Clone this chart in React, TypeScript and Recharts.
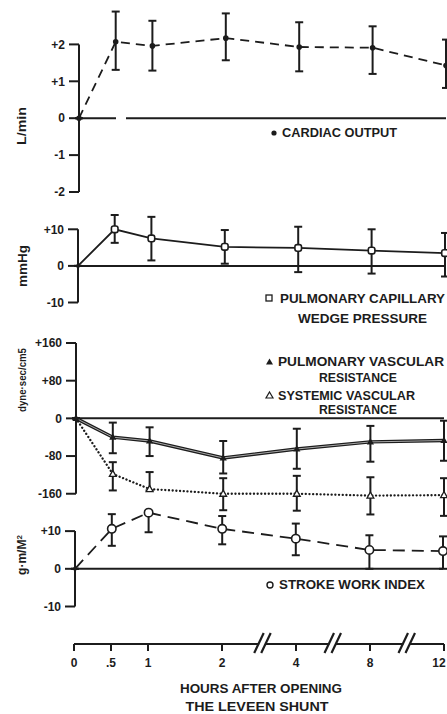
import React from 'react';
import { ComposedChart, Line, XAxis, YAxis, ErrorBar, ReferenceLine } from 'recharts';

const W = 447;
const H = 714;
const Y_W = 60;
const INK = '#1c1c1c';
const FONT = '"Liberation Sans", Arial, Helvetica, sans-serif';

// x categories (hours after opening the shunt), placed on a broken axis
const hourLabels = ['0', '.5', '1', '2', '4', '8', '12'];
const hourPositions = [0, 0.5, 1, 2, 3, 4, 5];
const axisBreaks = [2.55, 3.5, 4.5];

// Cardiac output (L/min)
const cardiacOutput = [0, 2.07, 1.96, 2.17, 1.93, 1.91, 1.43];
const cardiacHigh = [0, 2.89, 2.64, 2.84, 2.6, 2.49, 2.13];
const cardiacLow = [0, 1.31, 1.29, 1.57, 1.27, 1.2, 0.82];

// Pulmonary capillary wedge pressure (mmHg)
const wedgePressure = [0, 10.0, 7.5, 5.2, 4.9, 4.2, 3.5];
const wedgeHigh = [0, 13.9, 13.4, 9.8, 10.7, 10.0, 9.0];
const wedgeLow = [0, 6.3, 1.5, 0.6, -1.7, -2.1, -2.9];

// Pulmonary vascular resistance (dyne·sec/cm5)
const pulmVascRes = [0, -40, -48, -84, -65, -50, -47];
const pulmVascHigh = [0, -9, -19, -48, -22, -16, -5];
const pulmVascLow = [0, -74, -80, -117, -107, -92, -90];

// Systemic vascular resistance (dyne·sec/cm5)
const sysVascRes = [0, -118, -150, -160, -160, -164, -163];
const sysVascHigh = [0, -93, -114, -127, -122, -125, -127];
const sysVascLow = [0, -153, -153, -195, -196, -204, -207];

// Stroke work index (g·m/M2)
const strokeWork = [0, 10.6, 14.9, 10.6, 8.0, 5.0, 4.7];
const strokeHigh = [0, 14.5, 15.2, 14.0, 12.0, 8.9, 8.6];
const strokeLow = [0, 6.1, 9.7, 6.5, 3.6, 0, 0];

// y tick values and labels
const coTicks = [-2, -1, 0, 1, 2];
const coTickLabels = ['-2', '-1', '0', '+1', '+2'];
const wedgeTicks = [-10, 0, 10];
const wedgeTickLabels = ['-10', '0', '+10'];
const resTicks = [-160, -80, 0, 80, 160];
const resTickLabels = ['-160', '-80', '0', '+80', '+160'];
const swiTicks = [-10, 0, 10];
const swiTickLabels = ['-10', '0', '+10'];

function buildRows(values: number[], high: number[], low: number[]) {
  return hourPositions.map((x, i) => ({
    x,
    v: values[i],
    err: [values[i] - low[i], high[i] - values[i]],
  }));
}

const coRows = buildRows(cardiacOutput, cardiacHigh, cardiacLow);
const wedgeRows = buildRows(wedgePressure, wedgeHigh, wedgeLow);
const swiRows = buildRows(strokeWork, strokeHigh, strokeLow);
const resRows = hourPositions.map((x, i) => ({
  x,
  pvr: pulmVascRes[i],
  pvrErr: [pulmVascRes[i] - pulmVascLow[i], pulmVascHigh[i] - pulmVascRes[i]],
  svr: sysVascRes[i],
  svrErr: [sysVascRes[i] - sysVascLow[i], sysVascHigh[i] - sysVascRes[i]],
}));
const breakRows = axisBreaks.map((x) => ({ x, y: 0 }));

const txt = { fontFamily: FONT, fontWeight: 700, fill: INK } as const;

const OriginDot = (p: any, k: string) => <circle key={k} cx={p.cx} cy={p.cy} r={2} fill={INK} />;

const DotFilled = (p: any) => <circle key={`d${p.index}`} cx={p.cx} cy={p.cy} r={2.8} fill={INK} />;
const DotSquare = (p: any) =>
  p.index === 0 ? OriginDot(p, `s${p.index}`) : (
    <rect key={`s${p.index}`} x={p.cx - 3.3} y={p.cy - 3.3} width={6.6} height={6.6} rx={2.2}
      fill="#fff" stroke={INK} strokeWidth={1.6} />
  );
const DotCircle = (p: any) =>
  p.index === 0 ? OriginDot(p, `c${p.index}`) : (
    <circle key={`c${p.index}`} cx={p.cx} cy={p.cy} r={4.2} fill="#fff" stroke={INK} strokeWidth={1.6} />
  );
const TriFilled = (p: any) => (
  <path key={`t${p.index}`} d={`M${p.cx},${p.cy - 3.8} L${p.cx + 3.6},${p.cy + 2.6} L${p.cx - 3.6},${p.cy + 2.6} Z`} fill={INK} />
);
const TriOpen = (p: any) =>
  p.index === 0 ? OriginDot(p, `o${p.index}`) : (
    <path key={`o${p.index}`} d={`M${p.cx},${p.cy - 3.6} L${p.cx + 3.4},${p.cy + 2.5} L${p.cx - 3.4},${p.cy + 2.5} Z`}
      fill="#fff" stroke={INK} strokeWidth={1.3} />
  );

const BreakMark = (p: any) => {
  const cx = p.cx;
  const cy = p.cy;
  return (
    <g key={`b${p.index}`}>
      <rect x={cx - 3.6} y={cy - 2.5} width={6.4} height={5} fill="#fff" />
      <line x1={cx - 8.5} y1={cy + 9} x2={cx + 1} y2={cy - 11} stroke={INK} strokeWidth={2.2} />
      <line x1={cx - 1.5} y1={cy + 9} x2={cx + 8} y2={cy - 11} stroke={INK} strokeWidth={2.2} />
    </g>
  );
};

const HourTick = (p: any) => {
  const i = hourPositions.indexOf(p.payload.value);
  const x = Math.min(p.x, W - 8);
  return (
    <text {...txt} fontSize={12} x={x} y={p.y} dy="0.71em" textAnchor="middle">
      {i >= 0 ? hourLabels[i] : ''}
    </text>
  );
};

type PanelProps = {
  left: number;
  right: number;
  top: number;
  bottom: number;
  domain: [number, number];
  ticks: number[];
  tickLabels: string[];
  axisSpan: [number, number];
  data: any[];
  zeroDash?: string;
  children?: React.ReactNode;
};

function Panel(p: PanelProps) {
  return (
    <div style={{ position: 'absolute', left: 0, top: 0 }}>
      <ComposedChart
        width={W}
        height={H}
        data={p.data}
        margin={{ top: p.top, bottom: H - p.bottom, left: p.left - Y_W, right: W - p.right }}
      >
        <XAxis dataKey="x" type="number" domain={[0, 5]} hide />
        <YAxis
          type="number"
          domain={p.domain}
          ticks={p.ticks}
          interval={0}
          width={Y_W}
          axisLine={false}
          tickLine={{ stroke: INK, strokeWidth: 2 }}
          tickSize={10}
          tickMargin={4}
          tick={{ fill: INK, fontSize: 12, fontFamily: FONT, fontWeight: 700 }}
          tickFormatter={(v: number) => {
            const i = p.ticks.indexOf(v);
            return i >= 0 ? p.tickLabels[i] : String(v);
          }}
        />
        <ReferenceLine y={0} stroke={INK} strokeWidth={2} strokeDasharray={p.zeroDash} />
        <ReferenceLine
          segment={[{ x: 0, y: p.axisSpan[0] }, { x: 0, y: p.axisSpan[1] }]}
          stroke={INK}
          strokeWidth={2}
        />
        {p.children}
      </ComposedChart>
    </div>
  );
}

export default function App() {
  return (
    <div style={{ position: 'absolute', left: 0, top: 0, width: W, height: H, background: '#fff', overflow: 'hidden' }}>
      {/* Cardiac output */}
      <Panel left={79} right={446} top={7.5} bottom={192} domain={[-2, 3]} ticks={coTicks}
        tickLabels={coTickLabels} axisSpan={[-2, 2]} data={coRows} zeroDash="37 10 2000">
        <Line dataKey="v" type="linear" stroke={INK} strokeWidth={1.8} strokeDasharray="9 6"
          dot={DotFilled} isAnimationActive={false}>
          <ErrorBar dataKey="err" direction="y" width={4} strokeWidth={2} stroke={INK} />
        </Line>
      </Panel>

      {/* Wedge pressure */}
      <Panel left={78} right={445} top={211} bottom={302.5} domain={[-10, 15]} ticks={wedgeTicks}
        tickLabels={wedgeTickLabels} axisSpan={[-10, 10]} data={wedgeRows}>
        <Line dataKey="v" type="linear" stroke={INK} strokeWidth={1.8} dot={DotSquare} isAnimationActive={false}>
          <ErrorBar dataKey="err" direction="y" width={4} strokeWidth={2} stroke={INK} />
        </Line>
      </Panel>

      {/* Vascular resistances */}
      <Panel left={76} right={444} top={343} bottom={522} domain={[-220, 160]} ticks={resTicks}
        tickLabels={resTickLabels} axisSpan={[-160, 160]} data={resRows}>
        <Line dataKey="svr" type="linear" stroke={INK} strokeWidth={2.3} strokeDasharray="0.1 3.6"
          strokeLinecap="round" dot={TriOpen} isAnimationActive={false}>
          <ErrorBar dataKey="svrErr" direction="y" width={4} strokeWidth={2} stroke={INK} />
        </Line>
        <Line dataKey="pvr" type="linear" stroke={INK} strokeWidth={3.4} dot={false} isAnimationActive={false} />
        <Line dataKey="pvr" type="linear" stroke="#a8a8a8" strokeWidth={1} dot={TriFilled} isAnimationActive={false}>
          <ErrorBar dataKey="pvrErr" direction="y" width={4} strokeWidth={2} stroke={INK} />
        </Line>
      </Panel>

      {/* Stroke work index */}
      <Panel left={75} right={443} top={508.5} bottom={606.5} domain={[-10, 16]} ticks={swiTicks}
        tickLabels={swiTickLabels} axisSpan={[-10, 10]} data={swiRows}>
        <Line dataKey="v" type="linear" stroke={INK} strokeWidth={1.8} strokeDasharray="12 7"
          dot={DotCircle} isAnimationActive={false}>
          <ErrorBar dataKey="err" direction="y" width={4} strokeWidth={2} stroke={INK} />
        </Line>
      </Panel>

      {/* Shared time axis with break marks */}
      <div style={{ position: 'absolute', left: 0, top: 0 }}>
        <ComposedChart width={W} height={H} data={breakRows} margin={{ top: 600, right: 3, bottom: 40, left: 74 }}>
          <XAxis
            dataKey="x"
            type="number"
            domain={[0, 5]}
            ticks={hourPositions}
            interval={0}
            height={30}
            tickSize={7}
            tickMargin={7}
            axisLine={{ stroke: INK, strokeWidth: 2 }}
            tickLine={{ stroke: INK, strokeWidth: 2 }}
            tick={HourTick}
          />
          <YAxis hide domain={[0, 1]} />
          <Line dataKey="y" type="linear" stroke="none" dot={BreakMark} isAnimationActive={false} />
        </ComposedChart>
      </div>

      {/* Titles and legends */}
      <svg width={W} height={H} style={{ position: 'absolute', left: 0, top: 0, pointerEvents: 'none' }}>
        <text {...txt} fontSize={12} x={22} y={126} transform="rotate(-90 22 126)" dy="0.36em" textAnchor="middle"
          textLength={38} lengthAdjust="spacingAndGlyphs">L/min</text>
        <text {...txt} fontSize={12} x={23} y={266} transform="rotate(-90 23 266)" dy="0.36em" textAnchor="middle"
          textLength={42} lengthAdjust="spacingAndGlyphs">mmHg</text>
        <text {...txt} fontSize={10} x={22} y={380} transform="rotate(-90 22 380)" dy="0.36em" textAnchor="middle"
          textLength={64} lengthAdjust="spacingAndGlyphs">dyne·sec/cm5</text>
        <text {...txt} fontSize={12} x={22} y={555} transform="rotate(-90 22 555)" dy="0.36em" textAnchor="middle">
          g·m/M<tspan fontSize={8} dy="-0.5em">2</tspan>
        </text>

        <circle cx={274} cy={133} r={2.6} fill={INK} />
        <text {...txt} fontSize={12} x={282} y={137.3} textLength={115} lengthAdjust="spacingAndGlyphs">CARDIAC OUTPUT</text>

        <rect x={266} y={295} width={6} height={6} fill="#fff" stroke={INK} strokeWidth={1.3} />
        <text {...txt} fontSize={12} x={280} y={302.5} textLength={165} lengthAdjust="spacingAndGlyphs">PULMONARY CAPILLARY</text>
        <text {...txt} fontSize={12} x={298} y={322.5} textLength={129} lengthAdjust="spacingAndGlyphs">WEDGE PRESSURE</text>

        <path d="M269.5,358.5 L273,364.5 L266,364.5 Z" fill={INK} />
        <text {...txt} fontSize={12} x={278} y={366} textLength={166} lengthAdjust="spacingAndGlyphs">PULMONARY VASCULAR</text>
        <text {...txt} fontSize={12} x={319} y={382.3} textLength={78} lengthAdjust="spacingAndGlyphs">RESISTANCE</text>
        <path d="M269.5,392 L273,398 L266,398 Z" fill="#fff" stroke={INK} strokeWidth={1.2} />
        <text {...txt} fontSize={12} x={278} y={399.5} textLength={137} lengthAdjust="spacingAndGlyphs">SYSTEMIC VASCULAR</text>
        <text {...txt} fontSize={12} x={319} y={413.8} textLength={78} lengthAdjust="spacingAndGlyphs">RESISTANCE</text>

        <circle cx={270} cy={585} r={3} fill="#fff" stroke={INK} strokeWidth={1.4} />
        <text {...txt} fontSize={12} x={279} y={589.3} textLength={146} lengthAdjust="spacingAndGlyphs">STROKE WORK INDEX</text>

        <text {...txt} fontSize={12} x={261} y={693.3} textAnchor="middle" textLength={162} lengthAdjust="spacingAndGlyphs">HOURS AFTER OPENING</text>
        <text {...txt} fontSize={12} x={257} y={711.3} textAnchor="middle" textLength={143} lengthAdjust="spacingAndGlyphs">THE LEVEEN SHUNT</text>
      </svg>
    </div>
  );
}
